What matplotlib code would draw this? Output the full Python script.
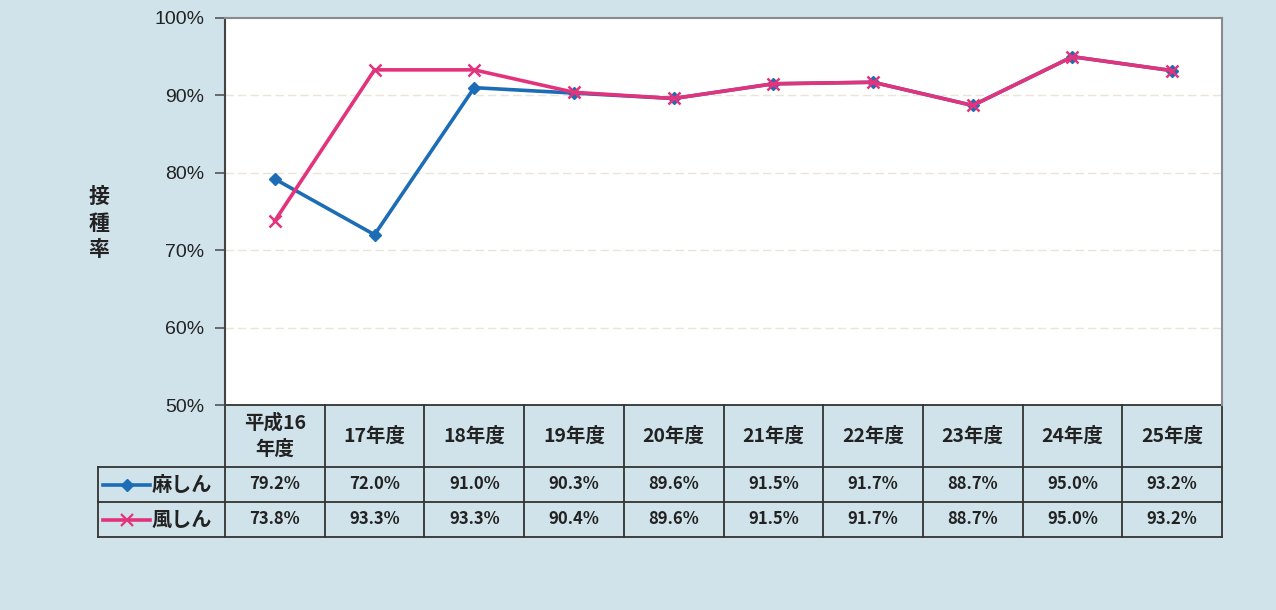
import matplotlib
matplotlib.use("Agg")
import matplotlib.pyplot as plt
from matplotlib.lines import Line2D
import matplotlib.transforms as mtransforms

plt.rcParams['font.family'] = ['Noto Sans CJK JP', 'DejaVu Sans']

# ---- data ----
years = ["平成16\n年度", "17年度", "18年度", "19年度", "20年度",
         "21年度", "22年度", "23年度", "24年度", "25年度"]
measles = [79.2, 72.0, 91.0, 90.3, 89.6, 91.5, 91.7, 88.7, 95.0, 93.2]
rubella = [73.8, 93.3, 93.3, 90.4, 89.6, 91.5, 91.7, 88.7, 95.0, 93.2]
series_names = ["麻しん", "風しん"]
yticks = [50, 60, 70, 80, 90, 100]

BG = "#d0e3eb"
BLUE = "#1c6db6"
PINK = "#e2337c"
TXT = "#222222"

W, H = 1276, 610
fig = plt.figure(figsize=(W / 100, H / 100), dpi=100, facecolor=BG)

# plot area in pixel box
L, R, T, B = 225, 1222, 18, 405
ax = fig.add_axes([L / W, 1 - B / H, (R - L) / W, (B - T) / H])
ax.set_facecolor("white")

x = list(range(len(years)))
ax.plot(x, measles, color=BLUE, lw=2.6, marker="D", ms=6.5,
        mfc=BLUE, mec=BLUE, zorder=3)
ax.plot(x, rubella, color=PINK, lw=2.6, marker="x", ms=8.5,
        mew=1.8, zorder=4)

ax.set_xlim(-0.5, len(years) - 0.5)
ax.set_ylim(50, 100)
ax.set_yticks(yticks)
ax.set_yticklabels([f"{v}%" for v in yticks], fontsize=14, color=TXT,
                   family=['Liberation Sans', 'DejaVu Sans'])
ax.set_xticks([])
ax.tick_params(axis="y", direction="out", length=7, width=1.2,
               color="#555555", pad=8)

for v in yticks[1:-1]:
    ax.axhline(v, color="#ebe5d8", lw=1.0, ls=(0, (6, 3)), zorder=1)

ax.spines["left"].set_color("#444444")
ax.spines["left"].set_linewidth(1.5)
for s in ("top", "right"):
    ax.spines[s].set_color("#8a8a8a")
    ax.spines[s].set_linewidth(1.5)
ax.spines["bottom"].set_visible(False)

# y-axis title, stacked vertically
fig.text(99 / W, 1 - 223 / H, "接\n種\n率", ha="center", va="center",
         fontsize=15, fontweight="bold", color=TXT, linespacing=1.3)

# ---- data table under the axes ----
trans = mtransforms.blended_transform_factory(ax.transData, ax.transAxes)
ph = B - T
hdr_h = 62 / ph
row_h = 35 / ph
col_w = (R - L) / len(years)
px = 1.0 / col_w  # data units per pixel
leg_left = -0.5 - (L - 98) * px
y0 = 0.0
y1 = -hdr_h
y2 = y1 - row_h
y3 = y2 - row_h
n = len(years)
line_kw = dict(color="#333333", lw=1.3, transform=trans, clip_on=False)

# horizontal rules
ax.add_line(Line2D([-0.5, n - 0.5], [y0, y0], **line_kw))
for yy in (y1, y2, y3):
    ax.add_line(Line2D([leg_left, n - 0.5], [yy, yy], **line_kw))
# vertical rules
for i in range(n + 1):
    ax.add_line(Line2D([i - 0.5, i - 0.5], [y0, y3], **line_kw))
ax.add_line(Line2D([leg_left, leg_left], [y1, y3], **line_kw))

for i, lab in enumerate(years):
    ax.text(i, (y0 + y1) / 2, lab, transform=trans, ha="center",
            va="center", fontsize=14, fontweight="bold", color=TXT,
            linespacing=1.45)
    ax.text(i, (y1 + y2) / 2, f"{measles[i]:.1f}%", transform=trans,
            ha="center", va="center", fontsize=12, fontweight="bold",
            color=TXT)
    ax.text(i, (y2 + y3) / 2, f"{rubella[i]:.1f}%", transform=trans,
            ha="center", va="center", fontsize=12, fontweight="bold",
            color=TXT)

# legend keys inside the table
key_l = -0.5 - (L - 103) * px
key_r = -0.5 - (L - 150) * px
key_m = (key_l + key_r) / 2
txt_x = -0.5 - (L - 152) * px
for (yy_a, yy_b), name, col, mk, ms, mew in (
        ((y1, y2), series_names[0], BLUE, "D", 6, 1),
        ((y2, y3), series_names[1], PINK, "x", 8, 1.6)):
    yc = (yy_a + yy_b) / 2
    ax.add_line(Line2D([key_l, key_r], [yc, yc], color=col, lw=2.6,
                       transform=trans, clip_on=False))
    ax.add_line(Line2D([key_m], [yc], color=col, marker=mk, ms=ms, mew=mew,
                       mfc=col, mec=col, transform=trans, clip_on=False))
    ax.text(txt_x, yc, name, transform=trans, ha="left", va="center",
            fontsize=14.5, fontweight="bold", color=TXT)

fig.savefig("out.png", dpi=100, facecolor=BG)
